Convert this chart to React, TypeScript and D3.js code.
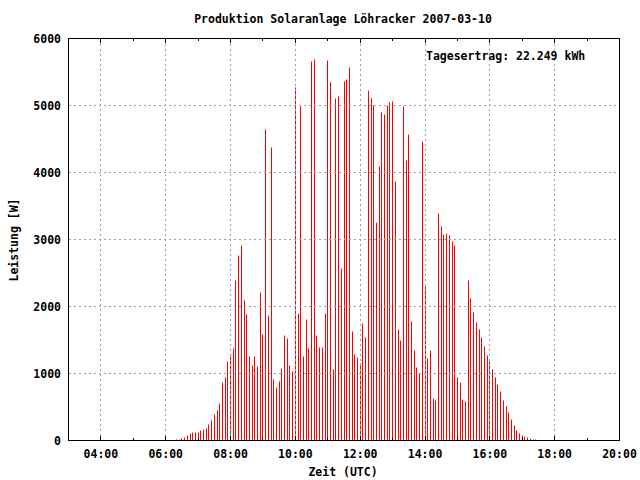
import * as d3 from 'd3';
import React, { useEffect, useRef } from 'react';

// Leistung in W, 5-Minuten-Werte ab 06:20 UTC
const startTime = '06:20';
const stepMinutes = 5;
const power = [
  20, 20, 35, 40, 70, 100, 125, 115, 125, 145, 170, 185, 235, 305, 395, 455,
  555, 870, 945, 1185, 1260, 1370, 2395, 2755, 2905, 2095, 1885, 1260, 1125,
  1260, 1110, 2205, 1585, 4645, 1870, 4378, 915, 795, 885, 1080, 1570, 1525,
  1125, 1035, 5275, 1900, 4990, 1260, 1810, 1380, 5660, 5690, 1570, 1395, 1395,
  1900, 5675, 5350, 1065, 5110, 5140, 2570, 5365, 5395, 5570, 1630, 1290, 1245,
  1155, 1750, 1540, 5230, 5110, 5005, 3260, 4095, 4900, 4870, 5005, 5050, 5065,
  3870, 1660, 1500, 4990, 4185, 4570, 1780, 1350, 1095, 1005, 4470, 2305, 1230,
  1350, 630, 600, 3395, 3200, 3080, 3095, 3065, 2975, 2915, 945, 870, 615, 585,
  2395, 2125, 1915, 1765, 1660, 1540, 1410, 1275, 1185, 1065, 945, 840, 735,
  600, 510, 425, 320, 230, 155, 110, 80, 65, 50, 35, 20, 20,
];

const xMajorTicks = ['04:00', '06:00', '08:00', '10:00', '12:00', '14:00', '16:00', '18:00', '20:00'];
const xMinorTicks = ['05:00', '07:00', '09:00', '11:00', '13:00', '15:00', '17:00', '19:00'];
const yTicks = [0, 1000, 2000, 3000, 4000, 5000, 6000];

const title = 'Produktion Solaranlage Löhracker 2007-03-10';
const dayTotal = 'Tagesertrag: 22.249 kWh';
const xLabel = 'Zeit (UTC)';
const yLabel = 'Leistung [W]';

const hours = (s: string) => {
  const [h, m] = s.split(':').map(Number);
  return h + m / 60;
};

const W = 640;
const H = 480;
const FONT = '"DejaVu Sans Mono", monospace';

const App = () => {
  const svgRef = useRef(null);

  useEffect(() => {
    const svg = d3.select(svgRef.current);
    svg.selectAll('*').remove();

    const x = d3.scaleLinear().domain([3, 20]).range([68.5, 619.5]);
    const y = d3.scaleLinear().domain([0, 6000]).range([440.5, 38.5]);
    const px = (t: number) => Math.floor(x(t)) + 0.5;

    const t0 = hours(startTime);

    // impulses
    svg
      .append('g')
      .selectAll('line')
      .data(power)
      .enter()
      .append('line')
      .attr('x1', (d, i) => px(t0 + (i * stepMinutes) / 60))
      .attr('x2', (d, i) => px(t0 + (i * stepMinutes) / 60))
      .attr('y1', y(0))
      .attr('y2', (d) => Math.round(y(d) - 0.5) + 0.5)
      .attr('stroke', '#ff0000')
      .attr('stroke-width', 1);

    // grid (front)
    const grid = svg.append('g').attr('stroke', '#a0a0a0').attr('stroke-dasharray', '2,3');
    xMajorTicks.slice(0, -1).forEach((t) => {
      grid.append('line').attr('x1', px(hours(t))).attr('x2', px(hours(t))).attr('y1', 39).attr('y2', 440);
    });
    yTicks.slice(1, -1).forEach((v) => {
      grid.append('line').attr('x1', 69).attr('x2', 619).attr('y1', y(v)).attr('y2', y(v));
    });

    // border
    svg
      .append('rect')
      .attr('x', 68.5)
      .attr('y', 38.5)
      .attr('width', 551)
      .attr('height', 402)
      .attr('fill', 'none')
      .attr('stroke', '#000');

    // ticks
    const ticks = svg.append('g').attr('stroke', '#000');
    xMajorTicks.forEach((t) => {
      const xx = px(hours(t));
      ticks.append('line').attr('x1', xx).attr('x2', xx).attr('y1', 440).attr('y2', 436);
      ticks.append('line').attr('x1', xx).attr('x2', xx).attr('y1', 39).attr('y2', 43);
    });
    xMinorTicks.forEach((t) => {
      const xx = px(hours(t));
      ticks.append('line').attr('x1', xx).attr('x2', xx).attr('y1', 440).attr('y2', 438);
      ticks.append('line').attr('x1', xx).attr('x2', xx).attr('y1', 39).attr('y2', 41);
    });

    const text = svg
      .append('g')
      .attr('font-family', FONT)
      .attr('font-size', 11.5)
      .attr('font-weight', 'bold')
      .attr('fill', '#000');

    xMajorTicks.forEach((t) => {
      text
        .append('text')
        .attr('x', x(hours(t)))
        .attr('y', 458)
        .attr('text-anchor', 'middle')
        .text(t);
    });
    yTicks.forEach((v) => {
      text
        .append('text')
        .attr('x', 61)
        .attr('y', y(v) + 4)
        .attr('text-anchor', 'end')
        .text(v);
    });

    text.append('text').attr('x', 343).attr('y', 23).attr('text-anchor', 'middle').text(title);
    text.append('text').attr('x', 426).attr('y', 60).text(dayTotal);
    text.append('text').attr('x', 343).attr('y', 476).attr('text-anchor', 'middle').text(xLabel);
    text
      .append('text')
      .attr('transform', 'translate(18,240) rotate(-90)')
      .attr('text-anchor', 'middle')
      .text(yLabel);
  }, []);

  return (
    <svg
      ref={svgRef}
      width={W}
      height={H}
      style={{ position: 'absolute', left: 0, top: 0, background: '#fff' }}
    />
  );
};

export default App;
